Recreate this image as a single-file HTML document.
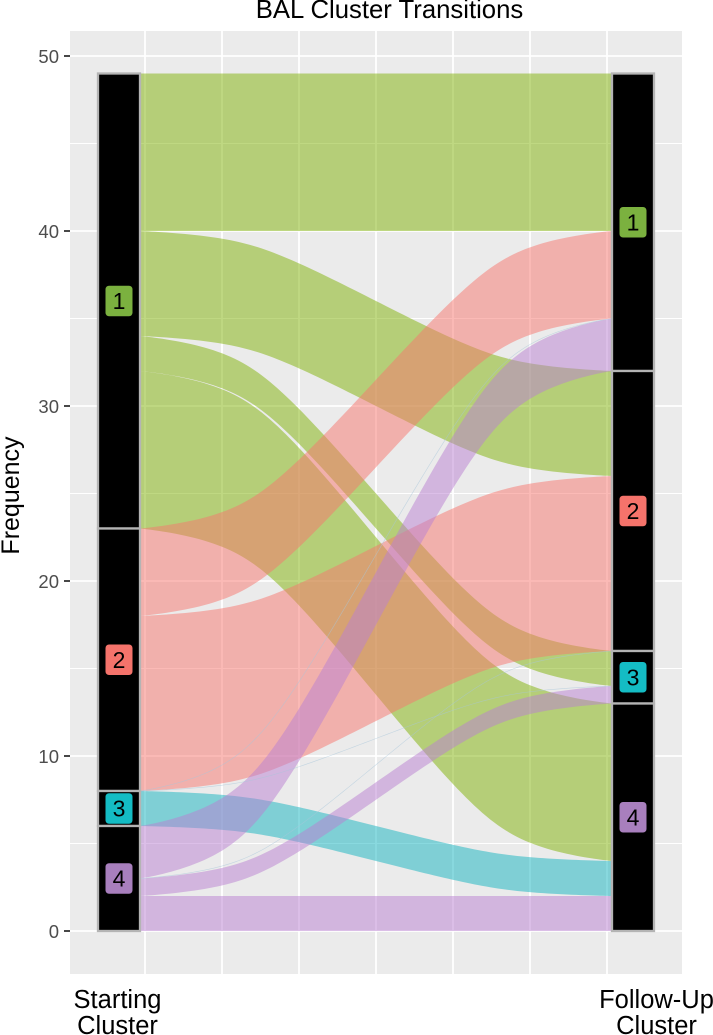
<!DOCTYPE html>
<html lang="en">
<head>
<meta charset="utf-8">
<title>BAL Cluster Transitions</title>
<style>
html,body{margin:0;padding:0;background:#fff;width:713px;height:1035px;overflow:hidden}
svg{display:block;font-family:"Liberation Sans",Arial,sans-serif}
</style>
</head>
<body>
<svg id="chart" xmlns="http://www.w3.org/2000/svg" width="713" height="1035" viewBox="0 0 713 1035">
  <rect x="0" y="0" width="713" height="1035" fill="#ffffff"/>
  <rect x="70" y="31" width="612" height="943" fill="#ebebeb"/>
  <g id="grid"></g>
  <g id="flows"></g>
  <g id="hairlines"></g>
  <g id="strata"></g>
  <g id="yaxis"></g>
  <text x="389.5" y="18" text-anchor="middle" font-size="25.7" fill="#000">BAL Cluster Transitions</text>
  <text transform="translate(19,495.5) rotate(-90)" text-anchor="middle" font-size="25" fill="#000">Frequency</text>
  <text text-anchor="middle" font-size="25.5" fill="#000"><tspan x="117.5" y="1008">Starting</tspan><tspan x="117.5" y="1034">Cluster</tspan></text>
  <text text-anchor="middle" font-size="25.5" fill="#000"><tspan x="656.5" y="1008">Follow-Up</tspan><tspan x="656.5" y="1034">Cluster</tspan></text>
</svg>
<script>
// ---- chart data ----
const yTickLabels = [0, 10, 20, 30, 40, 50];
const yMinorValues = [5, 15, 25, 35, 45];
const xGridBreaks = [1, 2, 3, 4, 5, 6, 7];
const clusterNames = ["1", "2", "3", "4"];
const startingStratumSizes = [26, 15, 2, 6];
const followUpStratumSizes = [17, 16, 3, 13];
const flowCluster = [1, 1, 1, 1, 2, 2, 3, 4, 4, 4];
const flowStartBase = [40, 34, 32, 23, 18, 8, 6, 3, 2, 0];
const flowEndBase = [40, 26, 14, 4, 35, 16, 2, 32, 13, 0];
const flowSize = [9, 6, 2, 9, 5, 10, 2, 3, 1, 2];
const hairlineStart = [8, 8, 3];
const hairlineEnd = [35, 14, 16];

// ---- styling ----
const clusterFill = {1: "#7fb106", 2: "#f8766d", 3: "#13b3bf", 4: "#b97fd2"};
const clusterLabelFill = {1: "#7bb13f", 2: "#f5736b", 3: "#14bcc4", 4: "#a87fbd"};

// ---- axis functions ----
const NS = "http://www.w3.org/2000/svg";
function yScale(v) { return 931 - v * 17.5; }
function xGrid(b) { return 145 + (b - 1) * 77; }
function axisCenter(i) { return 119 + i * 514; }
const stratumHalf = 21;
const flowX0 = axisCenter(0) + stratumHalf;
const flowX1 = axisCenter(1) - stratumHalf;
const knot = 0.25 * (flowX1 - flowX0);

function make(tag, attrs, parent) {
  const el = document.createElementNS(NS, tag);
  for (const k in attrs) el.setAttribute(k, attrs[k]);
  parent.appendChild(el);
  return el;
}

// ---- X-spline (same blending as R grid's xspline, shape 0,1,1,0) ----
function fBlend(num, den) {
  const p = 2 * den * den, u = num / den, u2 = u * u;
  return u * u2 * (10 - p + (2 * p - 15) * u + (6 - p) * u2);
}
function segment(p0, p1, p2, p3, s1, s2, t) {
  let T = 1 + s1;
  const A0 = (t + 1 < T) ? fBlend(t + 1 - T, 0 - T) : 0;
  T = 1 - s1;
  const A2 = fBlend(t + 1 - T, 2 - T);
  T = 2 + s2;
  const A1 = fBlend(t + 1 - T, 1 - T);
  T = 2 - s2;
  const A3 = (t + 1 > T) ? fBlend(t + 1 - T, 3 - T) : 0;
  const w = A0 + A1 + A2 + A3;
  return [
    (A0 * p0[0] + A1 * p1[0] + A2 * p2[0] + A3 * p3[0]) / w,
    (A0 * p0[1] + A1 * p1[1] + A2 * p2[1] + A3 * p3[1]) / w
  ];
}
function edge(startVal, endVal) {
  const a = yScale(startVal), b = yScale(endVal);
  const P = [[flowX0, a], [flowX0 + knot, a], [flowX1 - knot, b], [flowX1, b]];
  const S = [0, 1, 1, 0];
  const segs = [[0, 0, 1, 2], [0, 1, 2, 3], [1, 2, 3, 3]];
  const out = [];
  segs.forEach(function (q) {
    for (let i = 0; i <= 40; i++) {
      out.push(segment(P[q[0]], P[q[1]], P[q[2]], P[q[3]], S[q[1]], S[q[2]], i / 40));
    }
  });
  return out;
}
function toPath(pts) {
  return pts.map(function (p, i) {
    return (i ? "L" : "M") + p[0].toFixed(2) + " " + p[1].toFixed(2);
  }).join(" ");
}

// ---- gridlines ----
const gridG = document.getElementById("grid");
yMinorValues.forEach(function (v) {
  const l = make("line", {x1: 70, x2: 682, y1: yScale(v), y2: yScale(v), stroke: "#fff", "stroke-width": 0.9}, gridG);
  
  
});
yTickLabels.forEach(function (v) {
  const l = make("line", {x1: 70, x2: 682, y1: yScale(v), y2: yScale(v), stroke: "#fff", "stroke-width": 1.8}, gridG);
  
  
});
xGridBreaks.forEach(function (b) {
  const l = make("line", {x1: xGrid(b), x2: xGrid(b), y1: 31, y2: 974, stroke: "#fff", "stroke-width": 1.8}, gridG);
  
  
});

// ---- flows ----
const flowG = document.getElementById("flows");
flowCluster.forEach(function (c, i) {
  const lower = edge(flowStartBase[i], flowEndBase[i]);
  const upper = edge(flowStartBase[i] + flowSize[i], flowEndBase[i] + flowSize[i]);
  const d = toPath(upper.concat(lower.slice().reverse())) + " Z";
  const f = make("path", {d: d, fill: clusterFill[c], "fill-opacity": 0.5}, flowG);
  
  
});

// ---- zero-width flows render as faint hairlines ----
const hairG = document.getElementById("hairlines");
hairlineStart.forEach(function (s, i) {
  const h = make("path", {d: toPath(edge(s, hairlineEnd[i])), fill: "none", stroke: "#a9c6da", "stroke-opacity": 0.6, "stroke-width": 0.6}, hairG);
  
  
});

// ---- strata ----
const strataG = document.getElementById("strata");
function drawStrata(sizes, axisIndex, side) {
  let top = sizes.reduce(function (a, b) { return a + b; }, 0);
  const cx = axisCenter(axisIndex);
  sizes.forEach(function (size, i) {
    const y0 = yScale(top), y1 = yScale(top - size);
    const r = make("rect", {x: cx - stratumHalf, y: y0, width: stratumHalf * 2, height: y1 - y0, fill: "#000", stroke: "#b4b4b4", "stroke-width": 2.3}, strataG);
    
    
    top -= size;
  });
  top = sizes.reduce(function (a, b) { return a + b; }, 0);
  sizes.forEach(function (size, i) {
    const my = yScale(top - size / 2);
    const b = make("rect", {x: cx - 13.5, y: my - 15.3, width: 27, height: 30.6, rx: 3.5, ry: 3.5, fill: clusterLabelFill[i + 1]}, strataG);
    
    
    const t = make("text", {x: cx, y: my + 8.2, "text-anchor": "middle", "font-size": 23, fill: "#000"}, strataG);
    t.textContent = clusterNames[i];
    
    
    top -= size;
  });
}
drawStrata(startingStratumSizes, 0, 'starting');
drawStrata(followUpStratumSizes, 1, 'follow-up');

// ---- y axis ----
const yG = document.getElementById("yaxis");
yTickLabels.forEach(function (v) {
  const m = make("line", {x1: 64, x2: 70, y1: yScale(v), y2: yScale(v), stroke: "#333", "stroke-width": 1.8}, yG);
  
  
  const t = make("text", {x: 59, y: yScale(v) + 6.8, "text-anchor": "end", "font-size": 18.5, fill: "#4d4d4d"}, yG);
  t.textContent = String(v);
  
  
});
</script>
</body>
</html>
